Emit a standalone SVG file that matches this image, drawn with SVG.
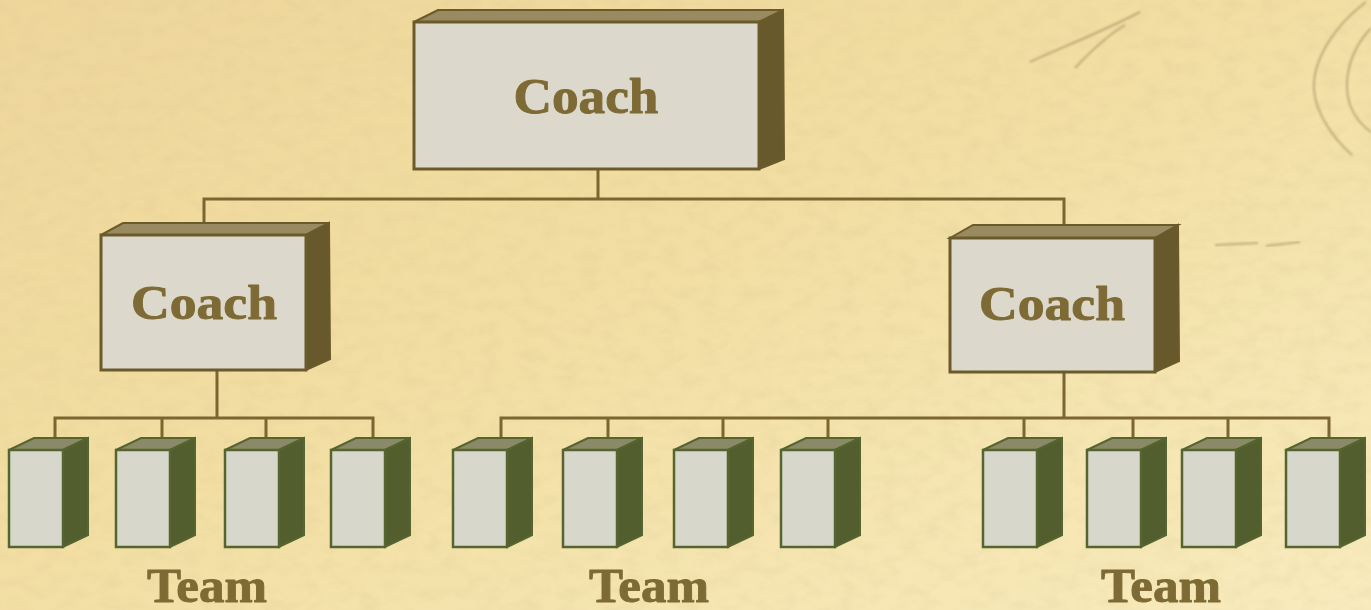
<svg xmlns="http://www.w3.org/2000/svg" width="1371" height="610" viewBox="0 0 1371 610">
  <defs>
    <linearGradient id="paper" x1="0" y1="0" x2="1" y2="1">
      <stop offset="0" stop-color="#eed69b"/>
      <stop offset="0.45" stop-color="#f2dea2"/>
      <stop offset="1" stop-color="#f8ebbd"/>
    </linearGradient>
    <filter id="grain" x="0" y="0" width="100%" height="100%">
      <feTurbulence type="fractalNoise" baseFrequency="0.05 0.08" numOctaves="3" seed="7"/>
      <feColorMatrix type="matrix" values="0 0 0 0 0.62  0 0 0 0 0.5  0 0 0 0 0.25  0 0 0 -1.4 0.85"/>
    </filter>
    <filter id="soft" x="-10%" y="-10%" width="120%" height="120%">
      <feGaussianBlur stdDeviation="1.2"/>
    </filter>
    <!-- team member block: front face, top face, side face -->
    <g id="member">
      <polygon class="m-top" points="0,0 25,-12 79,-12 54,0"/>
      <polygon class="m-side" points="54,0 79,-12 79,85 54,97"/>
      <rect class="m-front" x="0" y="0" width="54" height="97"/>
    </g>
  </defs>
  <style>
    .m-top { fill: #8a8a68; stroke: #56652f; stroke-width: 2; }
    .m-side { fill: #535e2e; stroke: #56652f; stroke-width: 2; }
    .m-front { fill: #d8d7cb; stroke: #56652f; stroke-width: 2.5; }
    .c-top { fill: #9a8a62; stroke: #6b5a2a; stroke-width: 2; }
    .c-side { fill: #67592b; stroke: #6b5a2a; stroke-width: 2; }
    .c-front { fill: #dcd8cc; stroke: #6b5a2a; stroke-width: 3; }
    .label { font-family: "Liberation Serif", "Times New Roman", serif; font-weight: bold; fill: #7d6a34; stroke: #7d6a34; stroke-width: 0.9; stroke-linejoin: round; text-anchor: middle; }
    .wire { fill: none; stroke: #7b6530; stroke-width: 3; stroke-linecap: square; }
    .sketch { fill: none; stroke: #7f6c48; stroke-opacity: 0.45; stroke-width: 2; filter: url(#soft); }
  </style>

  <!-- parchment -->
  <rect width="1371" height="610" fill="url(#paper)"/>
  <rect width="1371" height="610" filter="url(#grain)" opacity="0.22"/>
  <path class="sketch" d="M1030,62 C1060,48 1095,35 1140,12" stroke-opacity="0.3"/>
  <path class="sketch" d="M1075,68 C1090,52 1108,35 1125,25" stroke-opacity="0.25"/>
  <path class="sketch" d="M1366,2 C1335,25 1312,60 1314,90 C1316,115 1335,140 1352,155"/>
  <path class="sketch" d="M1371,28 C1350,50 1342,80 1350,105 C1356,120 1365,128 1371,132"/>
  <path class="sketch" d="M1215,245 L1258,243 M1266,246 L1300,242" stroke-opacity="0.3"/>

  <!-- connectors -->
  <g id="connectors">
    <path class="wire" d="M598,169 V199 M204,223 V199 H1064 V225"/>
    <path class="wire" d="M217,370 V418 M55,437 V418 H373 V437 M162,418 V437 M266,418 V437"/>
    <path class="wire" d="M1064,372 V418 M501,437 V418 H1329 V437 M608,418 V437 M723,418 V437 M828,418 V437 M1024,418 V437 M1133,418 V437 M1228,418 V437"/>
  </g>

  <!-- coaches -->
  <g id="coach-top">
    <polygon class="c-top" points="414,22 438,10 783,10 759,22"/>
    <polygon class="c-side" points="759,22 783,10 784,159 759,169"/>
    <rect class="c-front" x="414" y="22" width="345" height="147"/>
    <text class="label" x="586" y="113" font-size="50" textLength="145" lengthAdjust="spacingAndGlyphs">Coach</text>
  </g>
  <g id="coach-left">
    <polygon class="c-top" points="101,235 123,223 329,223 306,235"/>
    <polygon class="c-side" points="306,235 329,223 330,359 306,370"/>
    <rect class="c-front" x="101" y="235" width="205" height="135"/>
    <text class="label" x="204" y="319" font-size="49" textLength="146" lengthAdjust="spacingAndGlyphs">Coach</text>
  </g>
  <g id="coach-right">
    <polygon class="c-top" points="950,238 973,225 1178,225 1155,238"/>
    <polygon class="c-side" points="1155,238 1178,225 1179,361 1155,372"/>
    <rect class="c-front" x="950" y="238" width="205" height="134"/>
    <text class="label" x="1052" y="320" font-size="49" textLength="146" lengthAdjust="spacingAndGlyphs">Coach</text>
  </g>

  <!-- team members -->
  <g id="member-1"><use href="#member" x="9" y="450"/></g>
  <g id="member-2"><use href="#member" x="116" y="450"/></g>
  <g id="member-3"><use href="#member" x="225" y="450"/></g>
  <g id="member-4"><use href="#member" x="331" y="450"/></g>
  <g id="member-5"><use href="#member" x="453" y="450"/></g>
  <g id="member-6"><use href="#member" x="563" y="450"/></g>
  <g id="member-7"><use href="#member" x="674" y="450"/></g>
  <g id="member-8"><use href="#member" x="781" y="450"/></g>
  <g id="member-9"><use href="#member" x="983" y="450"/></g>
  <g id="member-10"><use href="#member" x="1087" y="450"/></g>
  <g id="member-11"><use href="#member" x="1182" y="450"/></g>
  <g id="member-12"><use href="#member" x="1286" y="450"/></g>

  <!-- team labels -->
  <g id="team-left"><text class="label" x="207" y="602" font-size="48" textLength="120" lengthAdjust="spacingAndGlyphs">Team</text></g>
  <g id="team-middle"><text class="label" x="649" y="602" font-size="48" textLength="120" lengthAdjust="spacingAndGlyphs">Team</text></g>
  <g id="team-right"><text class="label" x="1161" y="602" font-size="48" textLength="120" lengthAdjust="spacingAndGlyphs">Team</text></g>
</svg>
